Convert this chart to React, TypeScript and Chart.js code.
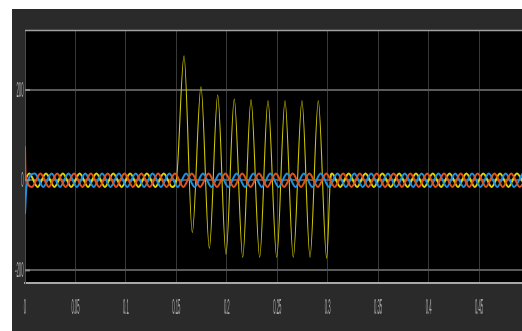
import { useEffect, useRef } from 'react';
import { Chart, registerables } from 'chart.js';

Chart.register(...registerables);

// x axis (seconds) and y axis ticks
const xTickValues = [0, 0.05, 0.1, 0.15, 0.2, 0.25, 0.3, 0.35, 0.4, 0.45];
const xTickLabels = ['0', '0.05', '0.1', '0.15', '0.2', '0.25', '0.3', '0.35', '0.4', '0.45'];
const yTickValues = [-200, 0, 200];
const yTickLabels = ['-200', '0', '200'];
const xRange = [0, 0.4926];
const yRange = [-228, 333];

// Phase A (yellow): times of extremes in ms and their values
const yellowTimes = [
  0, 4.2, 12.5, 20.8, 29.2, 37.5, 45.8, 54.2, 62.5, 70.8,
  79.2, 87.5, 95.8, 104.2, 112.5, 120.8, 129.2, 137.5, 145.8, 150,
  157.6, 165.8, 174.4, 182.7, 191.0, 199.2, 207.4, 215.8, 224.0, 232.6,
  240.8, 249.5, 257.7, 265.9, 274.5, 282.5, 290.7, 299.0, 302.6,
  304.2, 312.5, 320.8, 329.2, 337.5, 345.8, 354.2, 362.5, 370.8, 379.2,
  387.5, 395.8, 404.2, 412.5, 420.8, 429.2, 437.5, 445.8, 454.2, 462.5,
  470.8, 479.2, 487.5, 495.8,
];
const yellowValues = [
  0, 15, -15, 15, -15, 15, -15, 15, -15, 15,
  -15, 15, -15, 15, -15, 15, -15, 15, -15, 0,
  276, -116, 207, -151, 189, -164, 180, -171, 178, -171,
  176, -171, 176, -171, 176, -171, 176, -173, 0,
  15, -15, 15, -15, 15, -15, 15, -15, 15, -15,
  15, -15, 15, -15, 15, -15, 15, -15, 15, -15,
  15, -15, 15, -15,
];

// Phase B (blue)
const blueTimes = [
  0, 1.4, 9.7, 18.1, 26.4, 34.7, 43.1, 51.4, 59.7, 68.1,
  76.4, 84.7, 93.1, 101.4, 109.7, 118.1, 126.4, 134.7, 143.1, 151.4,
  159.7, 168.1, 176.4, 184.7, 193.1, 201.4, 209.7, 218.1, 226.4, 234.7,
  243.1, 251.4, 259.7, 268.1, 276.4, 284.7, 293.1, 301.4, 309.7, 318.1,
  326.4, 334.7, 343.1, 351.4, 359.7, 368.1, 376.4, 384.7, 393.1, 401.4,
  409.7, 418.1, 426.4, 434.7, 443.1, 451.4, 459.7, 468.1, 476.4, 484.7,
  493.1,
];
const blueValues = [
  -75, -15, 15, -15, 15, -15, 15, -15, 15, -15,
  15, -15, 15, -15, 15, -15, 15, -15, 15, -15,
  15, -15, 15, -15, 15, -15, 15, -15, 15, -15,
  15, -15, 15, -15, 15, -15, 15, -15, 15, -15,
  15, -15, 15, -15, 15, -15, 15, -15, 15, -15,
  15, -15, 15, -15, 15, -15, 15, -15, 15, -15,
  15,
];

// Phase C (orange)
const orangeTimes = [
  0, 0.5, 6.9, 15.3, 23.6, 31.9, 40.3, 48.6, 56.9, 65.3,
  73.6, 81.9, 90.3, 98.6, 106.9, 115.3, 123.6, 131.9, 140.3, 148.6,
  156.9, 165.3, 173.6, 181.9, 190.3, 198.6, 206.9, 215.3, 223.6, 231.9,
  240.3, 248.6, 256.9, 265.3, 273.6, 281.9, 290.3, 298.6, 306.9, 315.3,
  323.6, 331.9, 340.3, 348.6, 356.9, 365.3, 373.6, 381.9, 390.3, 398.6,
  406.9, 415.3, 423.6, 431.9, 440.3, 448.6, 456.9, 465.3, 473.6, 481.9,
  490.3, 498.6,
];
const orangeValues = [
  75, 12, -15, 15, -15, 15, -15, 15, -15, 15,
  -15, 15, -15, 15, -15, 15, -15, 15, -15, 15,
  -15, 15, -15, 15, -15, 15, -15, 15, -15, 15,
  -15, 15, -15, 15, -15, 15, -15, 15, -15, 15,
  -15, 15, -15, 15, -15, 15, -15, 15, -15, 15,
  -15, 15, -15, 15, -15, 15, -15, 15, -15, 15,
  -15, 15,
];

const toPoints = (times: number[], values: number[]) =>
  times.map((t, i) => ({ x: t / 1000, y: values[i] }));

const scopePlugin = {
  id: 'scopeStyle',
  beforeDraw(chart: any) {
    const { ctx, chartArea, width, height } = chart;
    ctx.save();
    ctx.fillStyle = '#2a2a2a';
    ctx.fillRect(0, 0, width, height);
    ctx.fillStyle = '#000000';
    ctx.fillRect(chartArea.left, chartArea.top, chartArea.right - chartArea.left, chartArea.bottom - chartArea.top);
    ctx.restore();
  },
  afterDraw(chart: any) {
    const { ctx, chartArea, scales } = chart;
    const xs = scales.x;
    const ys = scales.y;
    ctx.save();
    // top border
    ctx.strokeStyle = '#a0a0a0';
    ctx.lineWidth = 1.5;
    ctx.beginPath();
    ctx.moveTo(chartArea.left, chartArea.top + 0.5);
    ctx.lineTo(chartArea.right, chartArea.top + 0.5);
    ctx.stroke();
    // small y tick marks
    ctx.strokeStyle = '#8a8a8a';
    ctx.lineWidth = 2;
    yTickValues.forEach((v) => {
      const py = ys.getPixelForValue(v);
      ctx.beginPath();
      ctx.moveTo(chartArea.left, py);
      ctx.lineTo(chartArea.left + 5, py);
      ctx.stroke();
    });
    // labels, drawn narrow like the scope capture
    ctx.fillStyle = '#b0b0b0';
    ctx.font = '22px "Liberation Sans", Arial, sans-serif';
    ctx.textBaseline = 'middle';
    ctx.textAlign = 'center';
    xTickValues.forEach((v, i) => {
      const px = xs.getPixelForValue(v);
      ctx.save();
      ctx.translate(px, 299);
      ctx.scale(0.19, 1);
      ctx.fillText(xTickLabels[i], 0, 0);
      ctx.restore();
    });
    ctx.textAlign = 'right';
    yTickValues.forEach((v, i) => {
      const py = ys.getPixelForValue(v);
      ctx.save();
      ctx.translate(11.5, py + 1);
      ctx.scale(0.19, 1);
      ctx.fillText(yTickLabels[i], 0, 0);
      ctx.restore();
    });
    ctx.restore();
  },
};

const isBig = (c: any) => Math.abs(c.p0.parsed.y) > 40 || Math.abs(c.p1.parsed.y) > 40;

export default function App() {
  const canvasRef = useRef<HTMLCanvasElement | null>(null);

  useEffect(() => {
    const canvas = canvasRef.current;
    if (!canvas) return;
    const chart = new Chart(canvas, {
      type: 'line',
      data: {
        datasets: [
          {
            label: 'Phase C',
            data: toPoints(orangeTimes, orangeValues),
            borderColor: '#e2531c',
            borderWidth: 2,
            pointRadius: 0,
            cubicInterpolationMode: 'monotone',
            order: 1,
          },
          {
            label: 'Phase B',
            data: toPoints(blueTimes, blueValues),
            borderColor: '#1c92e0',
            borderWidth: 2,
            pointRadius: 0,
            cubicInterpolationMode: 'monotone',
            order: 2,
          },
          {
            label: 'Phase A',
            data: toPoints(yellowTimes, yellowValues),
            borderColor: '#e0d400',
            borderWidth: 2,
            pointRadius: 0,
            cubicInterpolationMode: 'monotone',
            segment: {
              borderWidth: (c: any) => (isBig(c) ? 1.1 : 2),
              borderColor: (c: any) => (isBig(c) ? '#d0c800' : '#e0d400'),
            },
            order: 3,
          },
        ],
      },
      options: {
        animation: false,
        responsive: false,
        maintainAspectRatio: false,
        events: [],
        layout: { padding: { top: 21, left: 0, right: 0, bottom: 0 } },
        plugins: {
          legend: { display: false },
          tooltip: { enabled: false },
          title: { display: false },
        },
        scales: {
          x: {
            type: 'linear',
            min: xRange[0],
            max: xRange[1],
            afterBuildTicks: (scale: any) => {
              scale.ticks = xTickValues.map((v) => ({ value: v }));
            },
            afterFit: (scale: any) => {
              scale.height = 48;
            },
            ticks: { display: false },
            grid: { color: '#383838', lineWidth: 1, drawTicks: false },
            border: { color: '#a8a8a8', width: 2 },
          },
          y: {
            type: 'linear',
            min: yRange[0],
            max: yRange[1],
            afterBuildTicks: (scale: any) => {
              scale.ticks = yTickValues.map((v) => ({ value: v }));
            },
            afterFit: (scale: any) => {
              scale.width = 13;
            },
            ticks: { display: false },
            grid: { color: '#5a5a5a', lineWidth: 2, drawTicks: false },
            border: { color: '#4a4a4a', width: 1 },
          },
        },
      },
      plugins: [scopePlugin],
    } as any);
    return () => chart.destroy();
  }, []);

  return (
    <div
      style={{
        position: 'absolute',
        left: 12,
        top: 9,
        width: 510,
        height: 322,
        background: '#2a2a2a',
      }}
    >
      <canvas ref={canvasRef} width={510} height={322} style={{ display: 'block' }} />
    </div>
  );
}
